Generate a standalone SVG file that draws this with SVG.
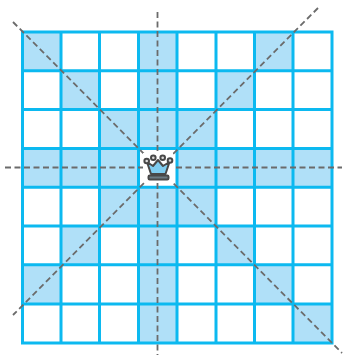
<svg xmlns="http://www.w3.org/2000/svg" width="343" height="359" viewBox="0 0 343 359">
<defs><style>
.s{fill:#b0e0f8}
.g{fill:none;stroke:#0cb9f0;stroke-width:3}
.d{fill:none;stroke:#6b6b6b;stroke-width:1.8;stroke-dasharray:6 3.500}
.q{stroke:#484848;stroke-width:2;stroke-linejoin:round}
</style></defs>
<rect width="343" height="359" fill="#fff"/>
<g id="shaded">
<path class="s" d="M22 32h39v39H22zM138 32h39v39h-39zM254 32h39v39h-39zM61 71h39v38.500H61zM138 71h39v38.500h-39zM216 71h38.500v38.500H216zM100 109.500h38v39h-38zM138 109.500h39v39h-39zM177 109.500h39v39h-39zM22 148.500h116v38.500H22zM177 148.500h155v38.500H177zM100 187h116v39H100zM61 226h39v39H61zM138 226h39v39h-39zM216 226h38.500v39H216zM22 265h39v39H22zM138 265h39v39h-39zM254.500 265h38.500v39h-38.500zM138 304h39v39h-39zM293 304h39v39h-39z"/>
</g>
<g id="grid">
<path class="g" d="M22.500 32H332V343H22.500ZM61 32V343M99.500 32V343M138.500 32V343M177 32V343M216 32V343M254.500 32V343M293 32V343M22.500 70.800H332M22.500 109.500H332M22.500 148.500H332M22.500 187.300H332M22.500 226H332M22.500 264.800H332M22.500 304H332"/>
</g>
<g id="connectors">
<path class="d" d="M157.500 12V355"/>
<path class="d" d="M5 167.500H342"/>
<path class="d" d="M13 22L342 353"/>
<path class="d" d="M318 8L13 315"/>
</g>
<g id="queen">
<rect x="143" y="153" width="30" height="29" fill="#fff"/>
<path class="q" d="M151 174L147 162L153 166L158 160L163 166L169.500 162L165.500 174Z" fill="#7fcdf0"/>
<rect class="q" x="148.500" y="175.500" width="20" height="4" rx="1.200" fill="#6b7a82"/>
<path class="q" d="M151 174H165.500" fill="none"/>
<circle class="q" cx="146.700" cy="161" r="2.300" fill="#ddd"/>
<circle class="q" cx="153.300" cy="157.700" r="2.300" fill="#ddd"/>
<circle class="q" cx="162.700" cy="157.700" r="2.300" fill="#ddd"/>
<circle class="q" cx="170" cy="160.500" r="2.300" fill="#ddd"/>
</g>
</svg>
